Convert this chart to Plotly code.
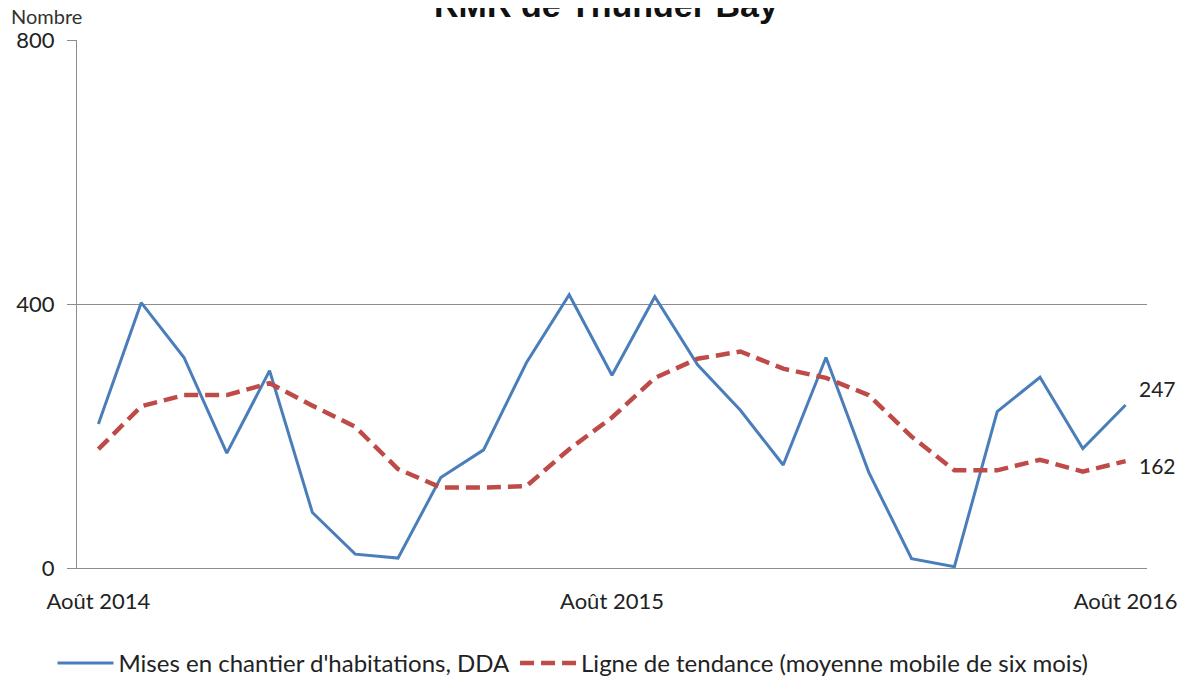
import plotly.graph_objects as go

months = ["Août 2014", "Sept. 2014", "Oct. 2014", "Nov. 2014", "Déc. 2014",
          "Janv. 2015", "Févr. 2015", "Mars 2015", "Avr. 2015", "Mai 2015",
          "Juin 2015", "Juil. 2015", "Août 2015", "Sept. 2015", "Oct. 2015",
          "Nov. 2015", "Déc. 2015", "Janv. 2016", "Févr. 2016", "Mars 2016",
          "Avr. 2016", "Mai 2016", "Juin 2016", "Juil. 2016", "Août 2016"]
starts = [218, 402, 319, 174, 299, 84, 21, 15, 137, 179, 311, 414, 292,
          411, 308, 239, 156, 319, 145, 14, 2, 237, 289, 181, 247]
trend = [180, 245, 262, 262, 280, 246, 214, 150, 122, 122, 124, 180, 228,
         288, 317, 328, 302, 288, 262, 199, 148, 148, 164, 146, 162]
tick_labels = ["Août 2014", "Août 2015", "Août 2016"]
y_ticks = [0, 400, 800]

FONT = "Lato, Liberation Sans, sans-serif"
BLUE = "#4A7EBB"
RED = "#BE4B48"
GRID = "#8C8C8C"

fig = go.Figure()
fig.add_trace(go.Scatter(x=months, y=starts, mode="lines",
                         name="Mises en chantier d'habitations, DDA",
                         line=dict(color=BLUE, width=3)))
fig.add_trace(go.Scatter(x=months, y=trend, mode="lines",
                         name="Ligne de tendance (moyenne mobile de six mois)",
                         line=dict(color=RED, width=4.5, dash="14px,7px")))

fig.add_annotation(x=months[-1], y=starts[-1], text=str(starts[-1]),
                   showarrow=False, xanchor="left", xshift=11, yshift=16,
                   font=dict(family=FONT, size=21, color="#222"))
fig.add_annotation(x=months[-1], y=trend[-1], text=str(trend[-1]),
                   showarrow=False, xanchor="left", xshift=11, yshift=-4,
                   font=dict(family=FONT, size=21, color="#222"))

fig.add_annotation(xref="paper", yref="paper", x=0.494, y=1.0265,
                   text="<b>RMR de Thunder Bay</b>", showarrow=False,
                   xanchor="center", yanchor="bottom",
                   font=dict(family="Liberation Sans Narrow, Liberation Sans, sans-serif",
                             size=34, color="#111"))
fig.add_annotation(xref="paper", yref="paper", x=-0.0638, y=1.0455,
                   text="Nombre", showarrow=False,
                   xanchor="left", yanchor="middle",
                   font=dict(family=FONT, size=20, color="#333"))

fig.update_layout(
    width=1171, height=669,
    margin=dict(l=69, r=32, t=32, b=109, autoexpand=False),
    paper_bgcolor="white", plot_bgcolor="white",
    font=dict(family=FONT, size=22, color="#222"),
    showlegend=True,
    legend=dict(orientation="h", xref="container", x=0.038, xanchor="left",
                yref="container", y=0.054, yanchor="top",
                font=dict(family=FONT, size=24, color="#222"),
                itemwidth=56),
)
fig.update_xaxes(type="category", range=[-0.5, len(months) - 0.5],
                 tickmode="array", tickvals=tick_labels, ticktext=tick_labels,
                 showgrid=False, showline=True, linecolor=GRID, linewidth=1,
                 ticks="", ticklabelstandoff=14, zeroline=False,
                 tickfont=dict(family=FONT, size=22))
fig.update_yaxes(range=[0, 800], tickmode="array", tickvals=y_ticks,
                 showgrid=True, gridcolor=GRID, gridwidth=1,
                 showline=True, linecolor=GRID, linewidth=1,
                 ticks="outside", ticklen=9, tickcolor=GRID,
                 ticklabelstandoff=8, zeroline=False,
                 tickfont=dict(family=FONT, size=22))

fig.write_html("out.html")
